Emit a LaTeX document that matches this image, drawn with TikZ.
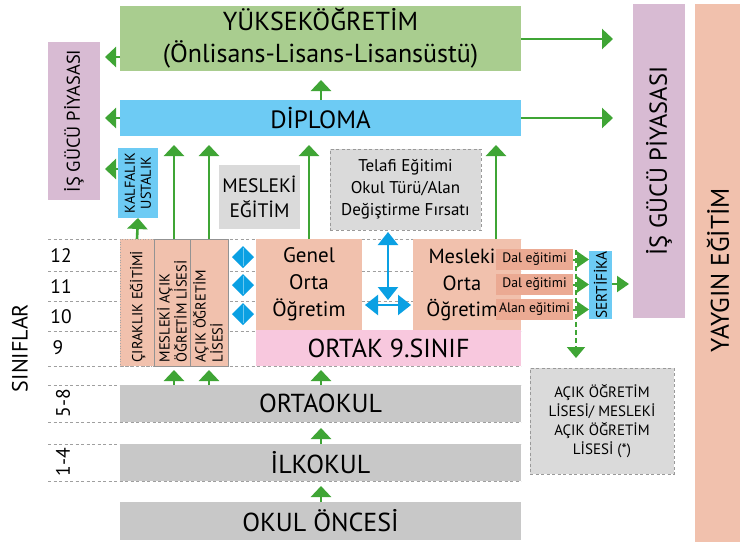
\documentclass[tikz,border=0pt]{standalone}
\usepackage{fontspec}
\setmainfont{PT Sans}
\usetikzlibrary{arrows.meta}
\definecolor{cgreenbox}{HTML}{A9CD8F}
\definecolor{cbluebox}{HTML}{6DCBF4}
\definecolor{cviolet}{HTML}{D8BBD3}
\definecolor{csalmon}{HTML}{F1C1AD}
\definecolor{cdal}{HTML}{EBAA93}
\definecolor{cpink}{HTML}{F8C8DE}
\definecolor{cgray}{HTML}{C8C8C8}
\definecolor{clight}{HTML}{DADADA}
\definecolor{cgreen}{HTML}{3FA535}
\definecolor{cblue}{HTML}{0AA0E3}
\definecolor{cdiam}{HTML}{6CC8F0}
\newcommand{\fs}[2]{\fontsize{#1}{#2}\selectfont}
\begin{document}
\begin{tikzpicture}[x=1pt,y=-1pt,
  box/.style={inner sep=0pt, outer sep=0pt, align=center},
  garr/.style={draw=cgreen, line width=2.6pt, -{Triangle[length=11pt,width=20pt]}},
  sgarr/.style={draw=cgreen, line width=2pt, -{Triangle[length=12pt,width=16pt]}},
  barr/.style={draw=cblue, line width=2.2pt, {Triangle[length=13pt,width=20pt]}-{Triangle[length=13pt,width=20pt]}},
  gridl/.style={draw=gray!75, line width=0.8pt, dash pattern=on 3pt off 2.5pt},
  rtext/.style={rotate=90, inner sep=0pt, align=center},
  coltext/.style={rotate=90, inner sep=0pt, align=left, anchor=west, font=\fs{14.5}{17}},
  grade/.style={inner sep=0pt, font=\fs{19.5}{21}},
]
\useasboundingbox (0,0) rectangle (740,542);
\fill[white] (0,0) rectangle (740,542);

% grade grid lines
\foreach \yy in {239,271,301,331,366,385,422,444,481}
  \draw[gridl] (48,\yy) -- (521,\yy);

% boxes
\node[box, fill=cgreenbox, minimum width=401pt, minimum height=65pt, font=\fs{26}{32}] (yuk) at (320.5,38.5) {YÜKSEKÖĞRETİM\\(Önlisans-Lisans-Lisansüstü)};
\node[box, fill=cbluebox, minimum width=401pt, minimum height=36pt, font=\fs{25}{28}] (dip) at (320.5,118) {DİPLOMA};
\node[box, fill=cviolet, minimum width=52pt, minimum height=158pt] (isk) at (74,121) {};
\node[rtext, font=\fs{18.5}{20}] at (isk.center) {İŞ GÜCÜ PİYASASI};
\node[box, fill=cviolet, minimum width=52pt, minimum height=314pt] (isb) at (659,161) {};
\node[rtext, font=\fs{24.5}{26}] at (isb.center) {İŞ GÜCÜ PİYASASI};
\node[box, fill=csalmon, minimum width=45pt, minimum height=538pt] (yay) at (717.5,273) {};
\node[rtext, font=\fs{25.5}{26}] at (718,270) {YAYGIN EĞİTİM};
\node[box, fill=cbluebox, minimum width=40pt, minimum height=70pt] (kal) at (138,183) {};
\node[rtext, font=\fs{14.3}{16}] at (kal.center) {KALFALIK\\USTALIK};

\node[box, fill=csalmon, draw=gray!70, dotted, line width=0.6pt, minimum width=34pt, minimum height=127pt] (cir) at (137,302.5) {};
\node[box, fill=csalmon, draw=gray!85, line width=0.8pt, minimum width=36pt, minimum height=127pt] (mac) at (172,302.5) {};
\node[box, fill=csalmon, draw=gray!85, line width=0.8pt, minimum width=38pt, minimum height=127pt] (aol) at (209,302.5) {};
\node[coltext] at (137.5,362.5) {ÇIRAKLIK EĞİTİMİ};
\node[coltext] at (172,362.5) {MESLEKİ AÇIK\\ÖĞRETİM LİSESİ};
\node[coltext] at (208,362.5) {AÇIK ÖĞRETİM\\LİSESİ};

\node[box, fill=clight, minimum width=81pt, minimum height=64pt, font=\fs{19.5}{25}] (mes) at (259.5,197) {MESLEKİ\\EĞİTİM};
\node[box, fill=clight, draw=gray!80, line width=0.8pt, dash pattern=on 3pt off 2.5pt, minimum width=151pt, minimum height=81pt, font=\fs{17}{22}] (tel) at (405.5,189.5) {Telafi Eğitimi\\Okul Türü/Alan\\Değiştirme Fırsatı};

\node[box, fill=csalmon, minimum width=106pt, minimum height=91pt, font=\fs{21}{27}] (gen) at (309,284.5) {Genel\\Orta\\Öğretim};
\node[box, fill=csalmon, minimum width=108pt, minimum height=91pt] (mor) at (467,284.5) {};
\node[box, font=\fs{20.5}{26.5}] (mortext) at (462,285) {Mesleki\\Orta\\Öğretim};
\node[box, fill=cpink, minimum width=265pt, minimum height=36pt, font=\fs{26}{28}] (ort9) at (388.5,348) {ORTAK 9.SINIF};

\node[box, fill=cdal, minimum width=77pt, minimum height=21pt, font=\fs{13.7}{15}] (dal1) at (534.5,259.5) {Dal eğitimi};
\node[box, fill=cdal, minimum width=77pt, minimum height=21pt, font=\fs{13.7}{15}] (dal2) at (534.5,284.5) {Dal eğitimi};
\node[box, fill=cdal, minimum width=77pt, minimum height=21pt, font=\fs{13.7}{15}] (dal3) at (534.5,309.5) {Alan eğitimi};
\node[box, fill=cbluebox, minimum width=23pt, minimum height=68pt] (ser) at (600.5,285) {};
\node[rtext, font=\fs{15.3}{17}] at (ser.center) {SERTİFİKA};

\node[box, fill=clight, draw=gray!80, line width=0.8pt, dash pattern=on 3pt off 2.5pt, minimum width=144pt, minimum height=106pt, font=\fs{15}{19}] (aok) at (602,421) {AÇIK ÖĞRETİM\\LİSESİ/ MESLEKİ\\AÇIK ÖĞRETİM\\LİSESİ (*)};

\node[box, fill=cgray, minimum width=401pt, minimum height=37pt, font=\fs{26}{28}] (orta) at (320.5,403.5) {ORTAOKUL};
\node[box, fill=cgray, minimum width=401pt, minimum height=37pt, font=\fs{26}{28}] (ilk) at (320.5,462.5) {İLKOKUL};
\node[box, fill=cgray, minimum width=401pt, minimum height=38pt, font=\fs{26}{28}] (onc) at (320.5,521) {OKUL ÖNCESİ};

% grade labels
\node[grade] (g12) at (61,256) {12};
\node[grade] (g11) at (61,287) {11};
\node[grade] (g10) at (61,317) {10};
\node[grade] (g9) at (58,348) {9};
\node[grade, rotate=90] (g58) at (63,403) {5-8};
\node[grade, rotate=90] (g14) at (63,462) {1-4};
\node[rtext, font=\fs{22}{24}] (sin) at (20,348) {SINIFLAR};

% green arrows
\draw[garr] (yuk.west |- 0,57) -- ([xshift=5pt]isk.east |- 0,57);
\draw[garr] (dip.west) -- ([xshift=5pt]isk.east |- dip.west);
\draw[garr] (kal.west |- 0,169) -- ([xshift=5pt]isk.east |- 0,169);
\draw[garr] (yuk.east |- 0,39) -- ([xshift=-20pt]isb.west |- 0,39);
\draw[garr] (dip.east) -- ([xshift=-20pt]isb.west |- dip.east);
\draw[garr] (dip.north -| 321,0) -- (321,80);
\draw[garr] (cir.north) -- (kal.south);
\draw[garr] (mac.north -| 174,0) -- (174,145);
\draw[garr] (aol.north) -- (aol.north |- 0,145);
\draw[garr] (gen.north) -- (gen.north |- 0,145);
\draw[garr] (mor.north -| 496,0) -- (496,145);
\draw[garr] (orta.north -| 174,0) -- (174,370);
\draw[garr] (orta.north -| aol.south) -- (aol.south |- 0,370);
\draw[garr] (orta.north -| 321,0) -- (321,370);
\draw[garr] (ilk.north -| 321,0) -- (321,428);
\draw[garr] (onc.north -| 321,0) -- (321,486);

\draw[sgarr] (dal1.east) -- (ser.west |- dal1.east);
\draw[sgarr] (dal2.east) -- (ser.west |- dal2.east);
\draw[sgarr] (dal3.east) -- (ser.west |- dal3.east);
\draw[sgarr] (ser.east |- 0,284) -- ([xshift=-4pt]isb.west |- 0,284);
\coordinate (vtop) at (576,250);
\draw[draw=cgreen, line width=2pt, dash pattern=on 5pt off 3pt, -{Triangle[length=11pt,width=18pt]}] (vtop) -- (vtop |- 0,358);

% blue arrows
\draw[barr] ([yshift=-2pt]tel.south -| 388,0) -- (388,300);
\draw[barr] ([xshift=3pt]gen.east |- 0,305) -- ([xshift=-2pt]mor.west |- 0,305);
\foreach \cy in {257,285,314}{
  \fill[cblue] (232,\cy) -- (243,\cy-11) -- (254,\cy) -- (243,\cy+11) -- cycle;
  \draw[cdiam, line width=0.8pt] (243,\cy-9) -- (243,\cy+9);
}
\end{tikzpicture}
\end{document}
